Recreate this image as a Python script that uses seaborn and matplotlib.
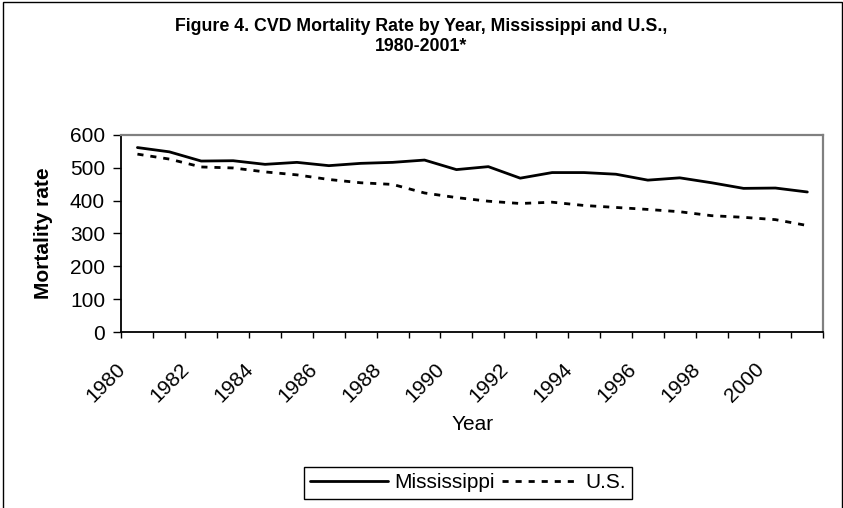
# CVD mortality rate by year, Mississippi vs U.S. (Excel-style line chart)
import matplotlib
matplotlib.use("Agg")
import matplotlib.pyplot as plt
import matplotlib.transforms as mtransforms
from matplotlib.lines import Line2D
from matplotlib.patches import Rectangle
import pandas as pd
import seaborn as sns

years = list(range(1980, 2002))
mississippi = [561, 548, 520, 521, 510, 516, 506, 513, 516, 523, 494,
               503, 468, 485, 485, 480, 462, 469, 454, 437, 438, 426]
us = [541, 526, 502, 499, 487, 478, 464, 454, 449, 423, 409,
      398, 391, 395, 385, 379, 373, 366, 354, 349, 342, 324]
series_names = ["Mississippi", "U.S."]
yticks = [0, 100, 200, 300, 400, 500, 600]
xtick_years = list(range(1980, 2001, 2))
title = "Figure 4. CVD Mortality Rate by Year, Mississippi and U.S.,\n1980-2001*"


def main() -> None:
    sns.set_theme(style="white")
    plt.rcParams["font.family"] = ["Liberation Sans", "DejaVu Sans"]
    plt.rcParams["text.color"] = "black"
    plt.rcParams["axes.labelcolor"] = "black"

    df = pd.DataFrame({
        "Year": years * 2,
        "Rate": mississippi + us,
        "Region": [series_names[0]] * len(years) + [series_names[1]] * len(years),
    })

    us_dash = (2.2, 2.5)
    fig = plt.figure(figsize=(8.43, 5.08), dpi=100)
    ax = fig.add_axes([0.1441, 0.3461, 0.8325, 0.3887])

    sns.lineplot(data=df, x="Year", y="Rate", hue="Region", style="Region",
                 palette={"Mississippi": "black", "U.S.": "black"},
                 dashes={"Mississippi": "", "U.S.": us_dash},
                 linewidth=2, legend=False, ax=ax)

    ax.set_xlim(years[0] - 0.5, years[-1] + 0.5)
    ax.set_ylim(0, 600)
    ax.set_yticks(yticks)
    ax.set_xticks(xtick_years)
    ax.set_xticklabels([str(y) for y in xtick_years], rotation=45, ha="right", va="top")
    ax.set_xticks([y - 0.5 for y in years] + [years[-1] + 0.5], minor=True)

    ax.tick_params(axis="x", which="major", length=0, pad=19.5, labelsize=15, colors="black")
    ax.tick_params(axis="x", which="minor", length=4.3, width=1, direction="out",
                   bottom=True, color="black")
    ax.tick_params(axis="y", length=5.8, width=1, direction="out", left=True,
                   pad=6, labelsize=15, colors="black")

    # shift rotated year labels a little to the left, like Excel does
    shift = mtransforms.ScaledTranslation(-8 / 100, 0, fig.dpi_scale_trans)
    for lab in ax.get_xticklabels():
        lab.set_transform(lab.get_transform() + shift)

    for side in ["top", "right"]:
        ax.spines[side].set_color("#808080")
        ax.spines[side].set_linewidth(1.6)
    for side in ["left", "bottom"]:
        ax.spines[side].set_color("black")
        ax.spines[side].set_linewidth(1.3)

    ax.set_xlabel("Year", fontsize=15)
    ax.xaxis.set_label_coords(0.5, -0.42)
    ax.set_ylabel("Mortality rate", fontsize=15, fontweight="bold")
    ax.yaxis.set_label_coords(-0.097, 0.5)

    fig.text(0.4994, 1 - 18 / 508, title, ha="center", va="top",
             fontsize=12.8, fontweight="bold", linespacing=1.2, color="black")

    handles = [Line2D([], [], color="black", lw=2),
               Line2D([], [], color="black", lw=2, dashes=us_dash)]
    leg = fig.legend(handles, series_names, loc="center",
                     bbox_to_anchor=(468 / 843, 1 - 483 / 508), ncol=2, fontsize=15,
                     frameon=True, fancybox=False, edgecolor="black", framealpha=1,
                     handlelength=3.7, handletextpad=0.3, columnspacing=0.35,
                     borderpad=0.3)
    leg.get_frame().set_linewidth(1)

    # outer chart border (bottom edge is cut off in the original)
    fig.patches.append(Rectangle((2.5 / 843, -0.05), 839 / 843, 1.05 - 1.5 / 508,
                                 transform=fig.transFigure, fill=False,
                                 edgecolor="black", linewidth=1))

    fig.savefig("out.png", dpi=100)


if __name__ == "__main__":
    main()
